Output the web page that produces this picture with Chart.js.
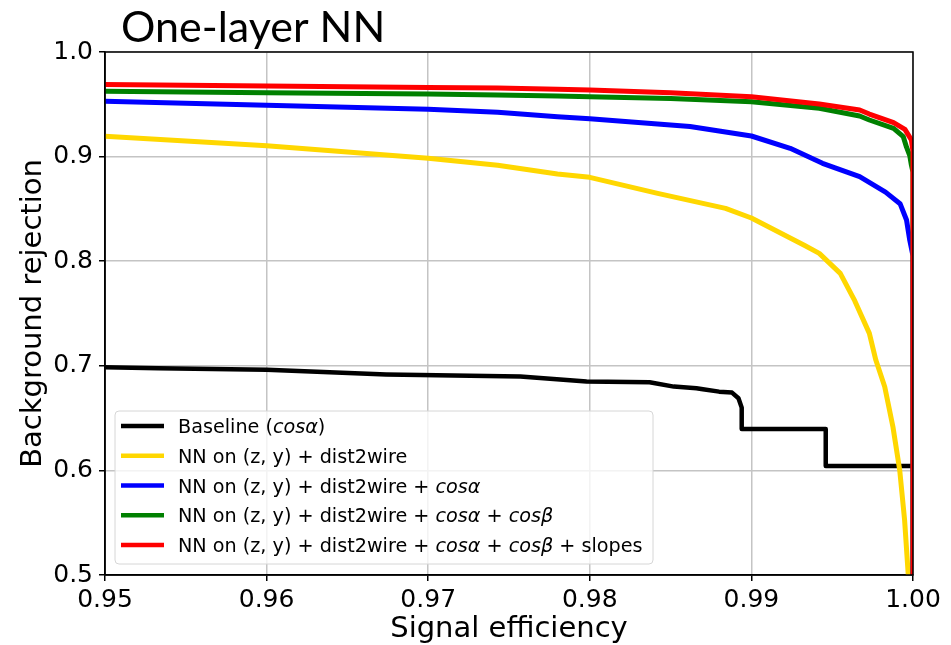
<!DOCTYPE html>
<html>
<head>
<meta charset="utf-8">
<script src="https://cdn.jsdelivr.net/npm/chart.js@4"></script>
<style>
  html, body { margin: 0; padding: 0; background: #fff; }
  #wrap { position: relative; width: 951px; height: 645px; }
</style>
</head>
<body>
<div id="wrap"><canvas id="roc" width="951" height="645"></canvas></div>
<script>
const chartTitle = 'One-layer NN';
const xTicks = [0.95, 0.96, 0.97, 0.98, 0.99, 1.00];
const yTicks = [0.5, 0.6, 0.7, 0.8, 0.9, 1.0];

const baselineX = [0.95, 0.9533, 0.96, 0.9674, 0.9695, 0.9757, 0.9798, 0.9837, 0.9852, 0.9866, 0.9870, 0.9880, 0.9888, 0.9892, 0.9894, 0.9894, 0.9946, 0.9946, 1.0];
const baselineY = [0.6986, 0.6976, 0.6962, 0.6918, 0.6912, 0.6897, 0.6850, 0.6843, 0.6801, 0.6785, 0.6775, 0.6753, 0.6744, 0.6690, 0.6600, 0.6396, 0.6396, 0.6042, 0.6042];

const nnX = [0.95, 0.96, 0.97, 0.9743, 0.978, 0.98, 0.9842, 0.9884, 0.99, 0.9933, 0.9942, 0.9955, 0.9964, 0.9973, 0.9977, 0.99825, 0.99876, 0.99918, 0.99948, 0.9997, 1.0];
const nnY = [0.9194, 0.9104, 0.8984, 0.8917, 0.8834, 0.8802, 0.8649, 0.8505, 0.8413, 0.815, 0.8075, 0.7884, 0.762, 0.731, 0.7055, 0.680, 0.6415, 0.600, 0.5526, 0.5016, 0.0];

const cosaX = [0.95, 0.96, 0.97, 0.9743, 0.978, 0.98, 0.9862, 0.99, 0.9924, 0.9944, 0.9967, 0.9983, 0.9992, 0.9996, 0.9998, 1.0, 1.0];
const cosaY = [0.9529, 0.949, 0.9452, 0.9424, 0.9382, 0.9363, 0.9287, 0.9197, 0.9079, 0.8936, 0.8808, 0.866, 0.855, 0.8394, 0.82, 0.805, 0.0];

const cosbX = [0.95, 0.96, 0.97, 0.9743, 0.978, 0.98, 0.985, 0.99, 0.9942, 0.9967, 0.9973, 0.9988, 0.9994, 0.9996, 0.9998, 0.9999, 1.0, 1.0];
const cosbY = [0.9624, 0.961, 0.9598, 0.9589, 0.9579, 0.9573, 0.9555, 0.9525, 0.9462, 0.9388, 0.935, 0.927, 0.919, 0.909, 0.901, 0.892, 0.885, 0.0];

const slopesX = [0.95, 0.96, 0.97, 0.9743, 0.978, 0.98, 0.985, 0.99, 0.9942, 0.9967, 0.9973, 0.9988, 0.9995, 0.9999, 1.0, 1.0];
const slopesY = [0.969, 0.9675, 0.966, 0.9656, 0.9643, 0.9637, 0.961, 0.9573, 0.9503, 0.9446, 0.9407, 0.9324, 0.926, 0.916, 0.905, 0.0];

// legend rows: [color, [text, italic?], ...]
const legendRows = [
  ['#000000', [['Baseline (', false], ['cosα', true], [')', false]]],
  ['#ffd700', [['NN on (z, y) + dist2wire', false]]],
  ['#0000ff', [['NN on (z, y) + dist2wire + ', false], ['cosα', true]]],
  ['#008000', [['NN on (z, y) + dist2wire + ', false], ['cosα', true], [' + ', false], ['cosβ', true]]],
  ['#ff0000', [['NN on (z, y) + dist2wire + ', false], ['cosα', true], [' + ', false], ['cosβ', true], [' + slopes', false]]]
];

const FONT = 'DejaVu Sans';
Chart.defaults.font.family = FONT;
Chart.defaults.color = '#000';

const pts = (xs, ys) => xs.map((x, i) => ({ x, y: ys[i] }));
const series = (data, color, width, order) => ({
  data, borderColor: color, backgroundColor: color, borderWidth: width,
  pointRadius: 0, tension: 0, order, clip: 0, borderJoinStyle: 'round'
});

const framePlugin = {
  id: 'frame',
  afterDatasetsDraw(chart) {
    const { ctx, chartArea: a } = chart;
    ctx.save();
    ctx.strokeStyle = '#000';
    ctx.lineWidth = 1.5;
    ctx.strokeRect(a.left, a.top, a.right - a.left, a.bottom - a.top);
    ctx.restore();
  },
  afterDraw(chart) {
    const { ctx } = chart;
    ctx.save();
    // title
    ctx.fillStyle = '#000';
    ctx.font = '43px Lato';
    ctx.textBaseline = 'alphabetic';
    ctx.textAlign = 'left';
    ctx.fillText(chartTitle, 121, 42);

    // legend box
    const bx = 115, by = 411, bw = 538, bh = 153, r = 4;
    ctx.beginPath();
    ctx.roundRect(bx, by, bw, bh, r);
    ctx.fillStyle = 'rgba(255,255,255,0.8)';
    ctx.fill();
    ctx.strokeStyle = '#d6d6d6';
    ctx.lineWidth = 1;
    ctx.stroke();

    legendRows.forEach(([color, parts], i) => {
      const y = 426 + i * 29.75;
      ctx.beginPath();
      ctx.moveTo(121, y);
      ctx.lineTo(164, y);
      ctx.strokeStyle = color;
      ctx.lineWidth = 4.5;
      ctx.stroke();
      let x = 178;
      ctx.fillStyle = '#000';
      parts.forEach(([t, it]) => {
        ctx.font = (it ? 'italic ' : '') + '19.2px ' + FONT;
        ctx.fillText(t, x, y + 7);
        x += ctx.measureText(t).width;
      });
    });
    ctx.restore();
  }
};

const grid = { color: '#c4c4c4', lineWidth: 1.5, tickColor: '#000', tickWidth: 1.5, tickLength: 6 };

new Chart(document.getElementById('roc'), {
  type: 'line',
  data: {
    datasets: [
      series(pts(baselineX, baselineY), '#000000', 4.5, 5),
      series(pts(nnX, nnY), '#ffd700', 5, 4),
      series(pts(cosaX, cosaY), '#0000ff', 5, 3),
      series(pts(cosbX, cosbY), '#008000', 5, 2),
      series(pts(slopesX, slopesY), '#ff0000', 5, 1)
    ]
  },
  options: {
    responsive: false,
    animation: false,
    layout: { padding: { top: 52, right: 38, left: 0, bottom: 0 } },
    plugins: { legend: { display: false }, tooltip: { enabled: false } },
    scales: {
      x: {
        type: 'linear', min: 0.95, max: 1.0,
        afterFit: (s) => { s.height = 70; },
        afterBuildTicks: (s) => { s.ticks = xTicks.map((v) => ({ value: v })); },
        ticks: { font: { size: 25 }, padding: 4, maxRotation: 0, callback: (v) => v.toFixed(2) },
        grid,
        border: { color: '#000', width: 1.5 },
        title: { display: true, text: 'Signal efficiency', font: { size: 29, lineHeight: 1.0 }, padding: { top: 0, bottom: 1 } }
      },
      y: {
        type: 'linear', min: 0.5, max: 1.0,
        afterFit: (s) => { s.width = 105; },
        afterBuildTicks: (s) => { s.ticks = yTicks.map((v) => ({ value: v })); },
        ticks: { font: { size: 25 }, padding: 6, callback: (v) => v.toFixed(1) },
        grid,
        border: { color: '#000', width: 1.5 },
        title: { display: true, text: 'Background rejection', font: { size: 29 }, padding: { top: 16, bottom: 0 } }
      }
    }
  },
  plugins: [framePlugin]
});
</script>
</body>
</html>
